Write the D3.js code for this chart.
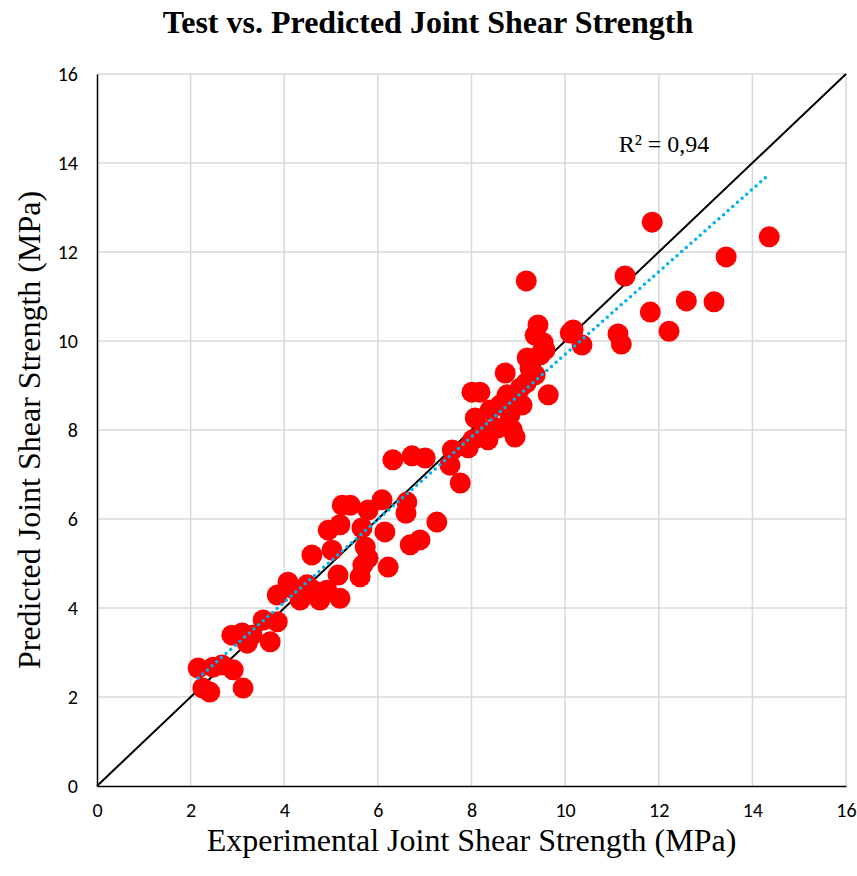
<!DOCTYPE html>
<html>
<head>
<meta charset="utf-8">
<script src="https://cdn.jsdelivr.net/npm/d3@7"></script>
<style>
  body { margin: 0; background: #fff; }
  svg { display: block; }
</style>
</head>
<body>
<div id="chart"></div>
<script>
(function () {

  // experimental vs predicted joint shear strength (MPa)
  var experimental = [2.16, 2.26, 2.41, 2.48, 2.67, 2.91, 3.12, 2.88, 3.10, 3.21,
    3.31, 3.55, 3.70, 3.85, 3.85, 4.08, 4.17, 4.34, 4.62, 4.49,
    4.76, 4.91, 5.19, 5.15, 4.59, 5.02, 4.94, 5.19, 5.24, 5.41,
    5.62, 5.68, 5.73, 5.79, 5.66, 5.79, 6.09, 6.15, 6.22, 6.32,
    6.62, 6.60, 6.69, 6.90, 6.73, 7.01, 7.26, 7.54, 7.59, 7.76,
    7.93, 8.03, 8.01, 8.18, 8.08, 8.25, 8.40, 8.35, 8.55, 8.61,
    8.72, 8.76, 8.87, 8.93, 8.97, 9.04, 9.17, 9.17, 9.19, 9.36,
    9.42, 9.53, 9.47, 9.57, 9.36, 9.64, 10.17, 10.11, 10.36, 11.13,
    11.20, 11.86, 11.28, 11.82, 12.22, 12.59, 13.18, 13.44, 14.36, 8.82,
    9.25, 9.08]
  var predicted = [2.65, 2.20, 2.11, 2.67, 2.72, 2.61, 2.20, 3.39, 3.44, 3.21,
    3.39, 3.73, 3.24, 3.69, 4.29, 4.58, 4.45, 4.18, 4.40, 4.52,
    4.18, 4.40, 4.22, 4.74, 5.19, 5.30, 5.75, 5.87, 6.31, 6.31,
    4.70, 4.97, 5.37, 5.12, 5.80, 6.20, 6.43, 5.71, 4.92, 7.33,
    6.38, 6.13, 5.42, 5.53, 7.42, 7.37, 5.93, 7.21, 7.55, 6.81,
    7.60, 7.78, 8.85, 8.85, 8.27, 8.00, 8.45, 7.78, 8.04, 8.56,
    9.28, 8.79, 8.00, 7.84, 8.67, 8.94, 9.06, 11.35, 9.62, 10.13,
    10.36, 9.96, 9.69, 9.80, 9.24, 8.79, 10.25, 10.18, 9.91, 10.16,
    9.93, 12.67, 11.46, 10.65, 10.22, 10.90, 10.88, 11.89, 12.34, 8.34,
    9.39, 8.56]

  // linear trendline as shown in the chart (y = slope * x + intercept)
  var trendSlope = 0.928
  var trendIntercept = 0.42

  var ticks = [0, 2, 4, 6, 8, 10, 12, 14, 16]
  var rSquaredLabel = "R² = 0,94"
  var titleText = "Test vs. Predicted Joint Shear Strength"
  var xTitle = "Experimental Joint Shear Strength (MPa)"
  var yTitle = "Predicted Joint Shear Strength (MPa)"

  var points = experimental.map(function (x, i) { return { x: x, y: predicted[i] } })

  var margin = { top: 74, right: 11, bottom: 90, left: 97 }
  var width = 857 - margin.left - margin.right,
      height = 876 - margin.top - margin.bottom

  var svg = d3.select("#chart").append("svg")
    .attr("width", 857)
    .attr("height", 876)

  var g = svg.append("g")
    .attr("transform", "translate(" + margin.left + "," + margin.top + ")")

  var xPositionScale = d3.scaleLinear().domain([0, 16]).range([0, width])
  var yPositionScale = d3.scaleLinear().domain([0, 16]).range([height, 0])

  // gridlines
  g.selectAll(".vgrid")
    .data(ticks.slice(1))
    .enter().append("line")
    .attr("x1", function (d) { return xPositionScale(d) })
    .attr("x2", function (d) { return xPositionScale(d) })
    .attr("y1", 0)
    .attr("y2", height)
    .attr("stroke", "#d9d9d9")
    .attr("stroke-width", 1.5)

  g.selectAll(".hgrid")
    .data(ticks.slice(1))
    .enter().append("line")
    .attr("y1", function (d) { return yPositionScale(d) })
    .attr("y2", function (d) { return yPositionScale(d) })
    .attr("x1", 0)
    .attr("x2", width)
    .attr("stroke", "#d9d9d9")
    .attr("stroke-width", 1.5)

  // axes
  var xAxis = d3.axisBottom(xPositionScale).tickValues(ticks).tickSize(0).tickPadding(17)
  var yAxis = d3.axisLeft(yPositionScale).tickValues(ticks).tickSize(0).tickPadding(19)

  g.append("g")
    .attr("class", "axis x-axis")
    .attr("transform", "translate(0," + height + ")")
    .call(xAxis)
  g.append("g")
    .attr("class", "axis y-axis")
    .call(yAxis)

  g.selectAll(".axis path").attr("stroke", "#000").attr("stroke-width", 1.5)
  g.selectAll(".axis text")
    .style("font-family", "Carlito, Lato, 'Open Sans', sans-serif")
    .style("font-size", "20px")
    .attr("fill", "#000")

  // 1:1 line
  g.append("line")
    .attr("x1", xPositionScale(0))
    .attr("y1", yPositionScale(0))
    .attr("x2", xPositionScale(16))
    .attr("y2", yPositionScale(16))
    .attr("stroke", "#000")
    .attr("stroke-width", 2)

  // points
  g.selectAll("circle")
    .data(points)
    .enter().append("circle")
    .attr("cx", function (d) { return xPositionScale(d.x) })
    .attr("cy", function (d) { return yPositionScale(d.y) })
    .attr("r", 10.5)
    .attr("fill", "#ff0000")

  // trendline over the range of the points
  var xExt = d3.extent(points, function (d) { return d.x })

  g.append("line")
    .attr("x1", xPositionScale(xExt[0]))
    .attr("y1", yPositionScale(trendSlope * xExt[0] + trendIntercept))
    .attr("x2", xPositionScale(xExt[1]))
    .attr("y2", yPositionScale(trendSlope * xExt[1] + trendIntercept))
    .attr("stroke", "#00b0f0")
    .attr("stroke-width", 3.5)
    .attr("stroke-linecap", "round")
    .attr("stroke-dasharray", "0,6.2")

  g.append("text")
    .attr("x", 567)
    .attr("y", 78)
    .attr("text-anchor", "middle")
    .style("font-family", "'Liberation Serif', 'Times New Roman', serif")
    .style("font-size", "24px")
    .text(rSquaredLabel)

  // titles
  svg.append("text")
    .attr("x", 428)
    .attr("y", 33)
    .attr("text-anchor", "middle")
    .style("font-family", "'Liberation Serif', 'Times New Roman', serif")
    .style("font-size", "32px")
    .style("font-weight", "bold")
    .text(titleText)

  svg.append("text")
    .attr("x", margin.left + width / 2)
    .attr("y", 851)
    .attr("text-anchor", "middle")
    .style("font-family", "'Liberation Serif', 'Times New Roman', serif")
    .style("font-size", "32px")
    .text(xTitle)

  svg.append("text")
    .attr("transform", "translate(40," + (margin.top + height / 2) + ") rotate(-90)")
    .attr("text-anchor", "middle")
    .style("font-family", "'Liberation Serif', 'Times New Roman', serif")
    .style("font-size", "32px")
    .text(yTitle)

})()
</script>
</body>
</html>
